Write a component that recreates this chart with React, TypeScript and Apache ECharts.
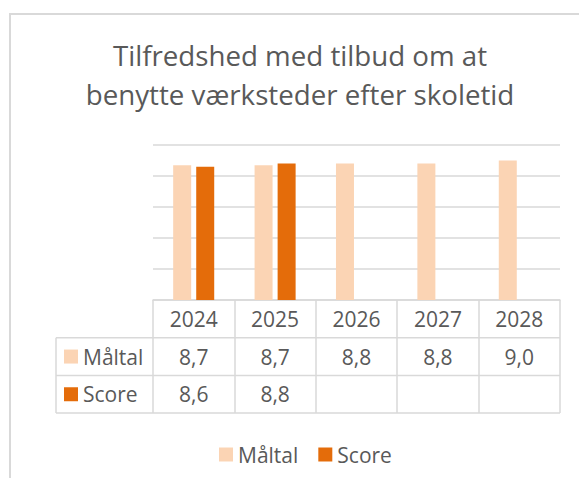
import React, { useEffect, useRef } from "react";
import * as echarts from "echarts";

const categories = ["2024", "2025", "2026", "2027", "2028"];
const seriesNames = ["Måltal", "Score"];
const maltal = [8.7, 8.7, 8.8, 8.8, 9.0];
const score: (number | null)[] = [8.6, 8.8, null, null, null];
const colors = ["#FBD4B4", "#E46C0A"];
const titleLines = ["Tilfredshed med tilbud om at", "benytte værksteder efter skoletid"];

const fmt = (v: number | null) => (v == null ? "" : v.toFixed(1).replace(".", ","));

export default function App() {
  const ref = useRef<HTMLDivElement>(null);
  useEffect(() => {
    if (!ref.current) return;
    const chart = echarts.init(ref.current, null, { renderer: "svg" });
    const font = "Open Sans";
    const textColor = "#595959";
    const lineColor = "#D9D9D9";
    const gridLeft = 153;
    const gridRight = 560;
    const axisY = 300;
    const rowH = 37.7;
    const tableLeft = 56;
    const rows = [maltal, score];
    const labelAxis = (idx: number, offset: number, formatter: any) => ({
      type: "category",
      gridIndex: 0,
      position: "bottom",
      offset,
      data: categories,
      axisLine: { show: idx === 0, lineStyle: { color: lineColor, width: 1.5 } },
      axisTick: {
        show: idx === 0,
        length: rowH * 3,
        lineStyle: { color: lineColor, width: 1.5 },
      },
      axisLabel: {
        color: textColor,
        fontFamily: font,
        fontSize: 21,
        margin: rowH / 2,
        verticalAlign: "middle",
        formatter,
      },
      splitLine: { show: false },
    });

    const graphics: any[] = [
      {
        type: "rect",
        shape: { x: 10, y: 14, width: 700, height: 700 },
        style: { fill: "none", stroke: lineColor, lineWidth: 2 },
        silent: true,
      },
    ];
    titleLines.forEach((t, i) => {
      graphics.push({
        type: "text",
        x: 300,
        y: 54.5 + i * 39,
        style: {
          text: t,
          fill: textColor,
          fontFamily: font,
          fontSize: 27.7,
          align: "center",
          verticalAlign: "middle",
        },
      });
    });
    for (let r = 1; r <= 3; r++) {
      graphics.push({
        type: "line",
        shape: { x1: tableLeft, y1: axisY + rowH * r, x2: gridRight, y2: axisY + rowH * r },
        style: { stroke: lineColor, lineWidth: 1.5 },
      });
    }
    graphics.push({
      type: "line",
      shape: { x1: tableLeft, y1: axisY + rowH, x2: tableLeft, y2: axisY + rowH * 3 },
      style: { stroke: lineColor, lineWidth: 1.5 },
    });
    seriesNames.forEach((name, i) => {
      const cy = axisY + rowH * (i + 1) + rowH / 2;
      graphics.push({
        type: "rect",
        shape: { x: 64, y: cy - 7, width: 14, height: 14 },
        style: { fill: colors[i] },
      });
      graphics.push({
        type: "text",
        x: 83,
        y: cy,
        style: {
          text: name,
          fill: textColor,
          fontFamily: font,
          fontSize: 21,
          verticalAlign: "middle",
          align: "left",
        },
      });
    });

    chart.setOption({
      animation: false,
      backgroundColor: "#ffffff",
      legend: {
        data: seriesNames,
        left: 219,
        top: 444,
        padding: 0,
        itemWidth: 14,
        itemHeight: 14,
        itemGap: 20,
        icon: "rect",
        textStyle: { color: textColor, fontFamily: font, fontSize: 21 },
      },
      grid: { left: gridLeft, right: 579 - gridRight, top: 145, bottom: 478 - axisY, containLabel: false },
      xAxis: [
        labelAxis(0, 0, (v: string) => v),
        labelAxis(1, rowH, (_v: string, i: number) => fmt(rows[0][i])),
        labelAxis(2, rowH * 2, (_v: string, i: number) => fmt(rows[1][i])),
      ],
      yAxis: {
        type: "value",
        min: 0,
        max: 10,
        interval: 2,
        axisLabel: { show: false },
        axisLine: { show: false },
        axisTick: { show: false },
        splitLine: { lineStyle: { color: lineColor, width: 1.5 } },
      },
      series: [
        {
          name: seriesNames[0],
          type: "bar",
          data: maltal,
          barWidth: 18,
          barGap: "28%",
          itemStyle: { color: colors[0] },
        },
        {
          name: seriesNames[1],
          type: "bar",
          data: score,
          barWidth: 18,
          barGap: "28%",
          itemStyle: { color: colors[1] },
        },
      ],
      graphic: graphics,
    });
    return () => chart.dispose();
  }, []);
  return (
    <div
      ref={ref}
      style={{ position: "fixed", left: 0, top: 0, width: 579, height: 478, background: "#fff" }}
    />
  );
}
